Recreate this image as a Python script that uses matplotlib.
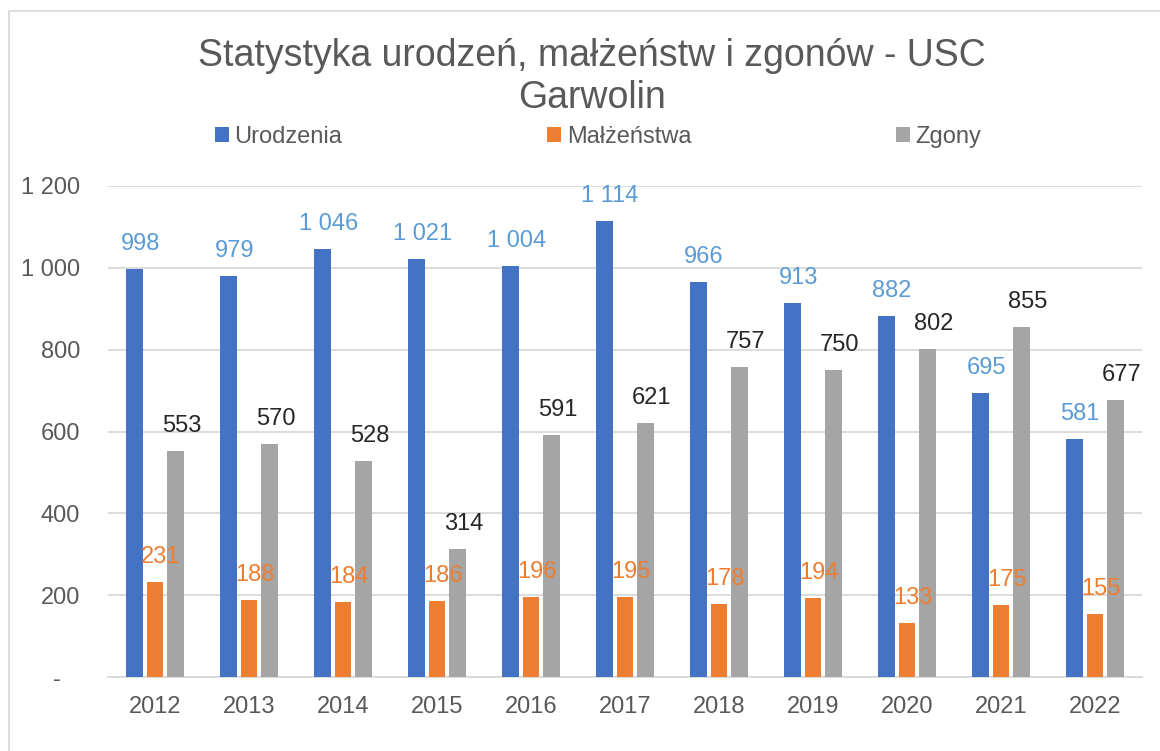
import matplotlib.pyplot as plt
from matplotlib.patches import Rectangle
import numpy as np

plt.rcParams['font.family'] = ['Liberation Sans', 'DejaVu Sans']

#Data
lata = ['2012', '2013', '2014', '2015', '2016', '2017', '2018', '2019', '2020', '2021', '2022']
urodzenia = [998, 979, 1046, 1021, 1004, 1114, 966, 913, 882, 695, 581]
malzenstwa = [231, 188, 184, 186, 196, 195, 178, 194, 133, 175, 155]
zgony = [553, 570, 528, 314, 591, 621, 757, 750, 802, 855, 677]

def fmt(v):
	#Polish thousands separator, "-" for zero
	if v == 0:
		return '-   '
	return '{:,}'.format(v).replace(',', ' ')

grey_txt = '#595959'
grid_c = '#D9D9D9'
fs = 17

fig = plt.figure(figsize=(11.6, 7.51), dpi=100)
ax = fig.add_axes([108/1160, 1-677/751, (1142-108)/1160, (677-186)/751])

x = np.arange(len(lata))
w = 0.18
off = 0.222
series = [
	(urodzenia, '#4472C4', '#5B9BD5', 'Urodzenia', -off),
	(malzenstwa, '#ED7D31', '#ED7D31', 'Małżeństwa', 0),
	(zgony, '#A5A5A5', '#262626', 'Zgony', off),
]
handles = []
for vals, col, lcol, name, dx in series:
	b = ax.bar(x+dx, vals, w, color=col, label=name, zorder=3)
	handles.append(b)
	for xi, v in zip(x+dx, vals):
		ax.annotate(fmt(v), (xi, v), xytext=(6, 25), textcoords='offset pixels',
			ha='center', va='center', fontsize=fs, color=lcol, zorder=4)

ax.set_xlim(-0.5, len(lata)-0.5)
ax.set_ylim(0, 1200)
ax.set_yticks(range(0, 1201, 200))
ax.set_yticklabels([fmt(v) for v in range(0, 1201, 200)])
ax.set_xticks(x)
ax.set_xticklabels(lata)
ax.tick_params(axis='both', length=0, labelsize=fs, colors=grey_txt)
ax.tick_params(axis='y', pad=20)
ax.tick_params(axis='x', pad=14)
ax.yaxis.grid(True, color=grid_c, linewidth=1.3, zorder=0)
for s in ['top', 'right', 'left']:
	ax.spines[s].set_visible(False)
ax.spines['bottom'].set_color(grid_c)
ax.spines['bottom'].set_linewidth(1.3)

fig.text(592/1160, 1-77/751, 'Statystyka urodzeń, małżeństw i zgonów - USC\nGarwolin',
	ha='center', va='center', fontsize=27, color=grey_txt, linespacing=1.2)

leg = fig.legend(handles=handles, loc='center', bbox_to_anchor=(598/1160, 1-137/751),
	ncol=3, frameon=False, fontsize=fs, handlelength=0.6, handleheight=0.6,
	handletextpad=0.25, columnspacing=8.65, labelcolor=grey_txt)

#chart border
fig.patches.append(Rectangle((9/1160, -0.1), 1.2, (751-11)/751+0.1, transform=fig.transFigure,
	fill=False, edgecolor=grid_c, linewidth=1.3))

plt.savefig('out.png', dpi=100)
